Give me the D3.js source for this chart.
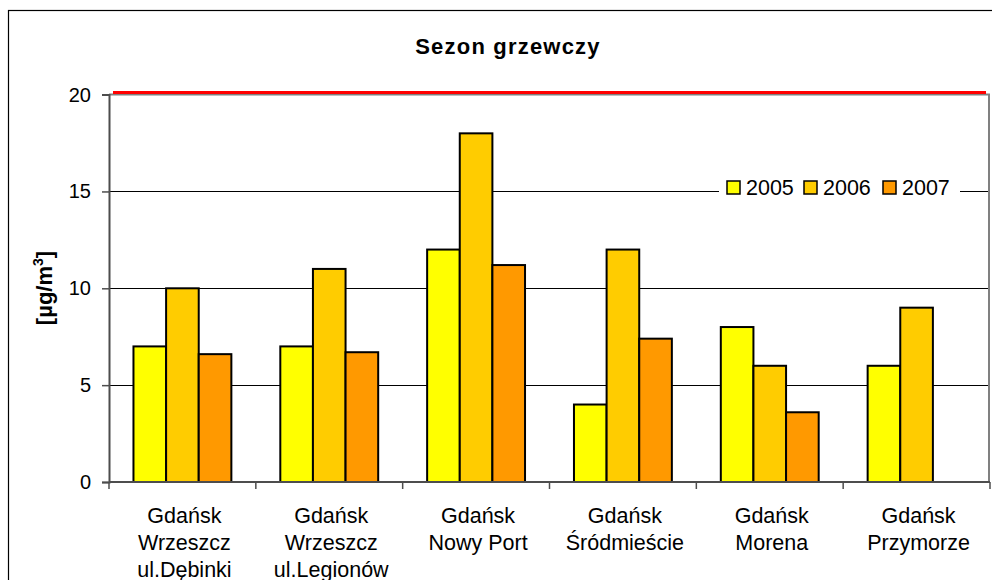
<!DOCTYPE html>
<html>
<head>
<meta charset="utf-8">
<script src="https://cdn.jsdelivr.net/npm/d3@7"></script>
<style>
  html, body { margin: 0; padding: 0; background: #fff; }
  svg { display: block; font-family: "Liberation Sans", Arial, sans-serif; }
</style>
</head>
<body>
<svg id="chart" width="992" height="580"></svg>
<script>
// Station names, one array entry per line of the label
const categories = [
  ["Gdańsk", "Wrzeszcz", "ul.Dębinki"],
  ["Gdańsk", "Wrzeszcz", "ul.Legionów"],
  ["Gdańsk", "Nowy Port"],
  ["Gdańsk", "Śródmieście"],
  ["Gdańsk", "Morena"],
  ["Gdańsk", "Przymorze"]
];
const years = ["2005", "2006", "2007"];
const values2005 = [7, 7, 12, 4, 8, 6];
const values2006 = [10, 11, 18, 12, 6, 9];
const values2007 = [6.6, 6.7, 11.2, 7.4, 3.6, null];
const yTicks = [0, 5, 10, 15, 20];
const limitValue = 20;
const title = "Sezon grzewczy";

const seriesValues = [values2005, values2006, values2007];
const colors = ["#FFFF00", "#FFCC00", "#FF9900"];

const svg = d3.select("#chart");
const plot = { left: 109, right: 990, top: 94.6, bottom: 482 };

const catKeys = categories.map((c, i) => i);
const x = d3.scaleBand().domain(catKeys).range([plot.left, plot.right]).paddingInner(0).paddingOuter(0);
const xs = d3.scaleBand().domain(years).range([0, x.bandwidth()]).paddingInner(0).paddingOuter(0.75);
const y = d3.scaleLinear().domain([0, 20]).range([plot.bottom, plot.top]);

// chart frame
svg.append("rect")
  .attr("x", 8.5).attr("y", 10.5)
  .attr("width", 1000).attr("height", 600)
  .attr("fill", "#fff").attr("stroke", "#000").attr("stroke-width", 1.2);

// title
svg.append("text")
  .attr("x", 508).attr("y", 54)
  .attr("text-anchor", "middle")
  .attr("font-size", 22).attr("font-weight", "bold")
  .attr("letter-spacing", 1.2)
  .text(title);

// gridlines
svg.append("g").selectAll("line")
  .data(yTicks.filter(t => t > 0 && t < 20))
  .join("line")
  .attr("x1", plot.left).attr("x2", plot.right)
  .attr("y1", d => Math.round(y(d)) + 0.5).attr("y2", d => Math.round(y(d)) + 0.5)
  .attr("stroke", "#000").attr("stroke-width", 1);

// plot area border (top and right)
svg.append("path")
  .attr("d", `M${plot.left},${y(20)}H${plot.right - 1}V${plot.bottom}`)
  .attr("fill", "none").attr("stroke", "#808080").attr("stroke-width", 2);

// bars
const groups = svg.append("g").selectAll("g")
  .data(catKeys)
  .join("g")
  .attr("transform", d => `translate(${x(d)},0)`);

groups.selectAll("rect")
  .data(ci => years.map((yr, si) => ({ yr, si, v: seriesValues[si][ci] })).filter(d => d.v != null))
  .join("rect")
  .attr("x", d => xs(d.yr))
  .attr("y", d => y(d.v))
  .attr("width", xs.bandwidth())
  .attr("height", d => y(0) - y(d.v))
  .attr("fill", d => colors[d.si])
  .attr("stroke", "#000").attr("stroke-width", 2);

// limit line
svg.append("line")
  .attr("x1", plot.left + 4).attr("x2", plot.right - 4)
  .attr("y1", y(limitValue) - 2).attr("y2", y(limitValue) - 2)
  .attr("stroke", "#FF0000").attr("stroke-width", 3);

// y axis
const yAxis = svg.append("g")
  .attr("transform", `translate(${plot.left},0)`)
  .call(d3.axisLeft(y).tickValues(yTicks).tickSize(7).tickPadding(11).tickFormat(d3.format("d")));
yAxis.select(".domain").attr("stroke", "#4d4d4d").attr("stroke-width", 2);
yAxis.selectAll(".tick line").attr("stroke", "#4d4d4d").attr("stroke-width", 1.5);
yAxis.selectAll(".tick text")
  .attr("font-size", 20).attr("fill", "#000")
  .attr("font-family", "'Liberation Sans', Arial, sans-serif");

// x axis line and boundary ticks
svg.append("line")
  .attr("x1", plot.left).attr("x2", plot.right)
  .attr("y1", plot.bottom).attr("y2", plot.bottom)
  .attr("stroke", "#4d4d4d").attr("stroke-width", 2);
svg.append("g").selectAll("line")
  .data(catKeys.concat([categories.length]))
  .join("line")
  .attr("x1", d => plot.left + d * x.step()).attr("x2", d => plot.left + d * x.step())
  .attr("y1", plot.bottom).attr("y2", plot.bottom + 7)
  .attr("stroke", "#4d4d4d").attr("stroke-width", 1.5);

// category labels
const catLabels = svg.append("g").selectAll("text")
  .data(catKeys)
  .join("text")
  .attr("text-anchor", "middle")
  .attr("font-size", 21.5)
  .attr("fill", "#000");
catLabels.selectAll("tspan")
  .data(ci => categories[ci].map(line => ({ ci, line })))
  .join("tspan")
  .attr("x", d => x(d.ci) + x.bandwidth() / 2 + 2)
  .attr("y", (d, i) => 523 + i * 27)
  .text(d => d.line);

// y axis title
const yTitle = svg.append("text")
  .attr("transform", "translate(52,288) rotate(-90)")
  .attr("text-anchor", "middle")
  .attr("font-size", 22).attr("font-weight", "bold");
yTitle.append("tspan").text("[µg/m");
yTitle.append("tspan").attr("font-size", 14).attr("dy", -9).text("3");
yTitle.append("tspan").attr("dy", 9).text("]");

// legend
const legend = svg.append("g");
legend.append("rect")
  .attr("x", 719).attr("y", 176).attr("width", 241).attr("height", 24)
  .attr("fill", "#fff");
const legendX = [727, 804, 883];
const items = legend.selectAll("g.item")
  .data(years)
  .join("g").attr("class", "item")
  .attr("transform", (d, i) => `translate(${legendX[i]},181)`);
items.append("rect")
  .attr("width", 13).attr("height", 13)
  .attr("fill", (d, i) => colors[i])
  .attr("stroke", "#000").attr("stroke-width", 1.5);
items.append("text")
  .attr("x", 19).attr("y", 14)
  .attr("font-size", 21.5)
  .text(d => d);
</script>
</body>
</html>
